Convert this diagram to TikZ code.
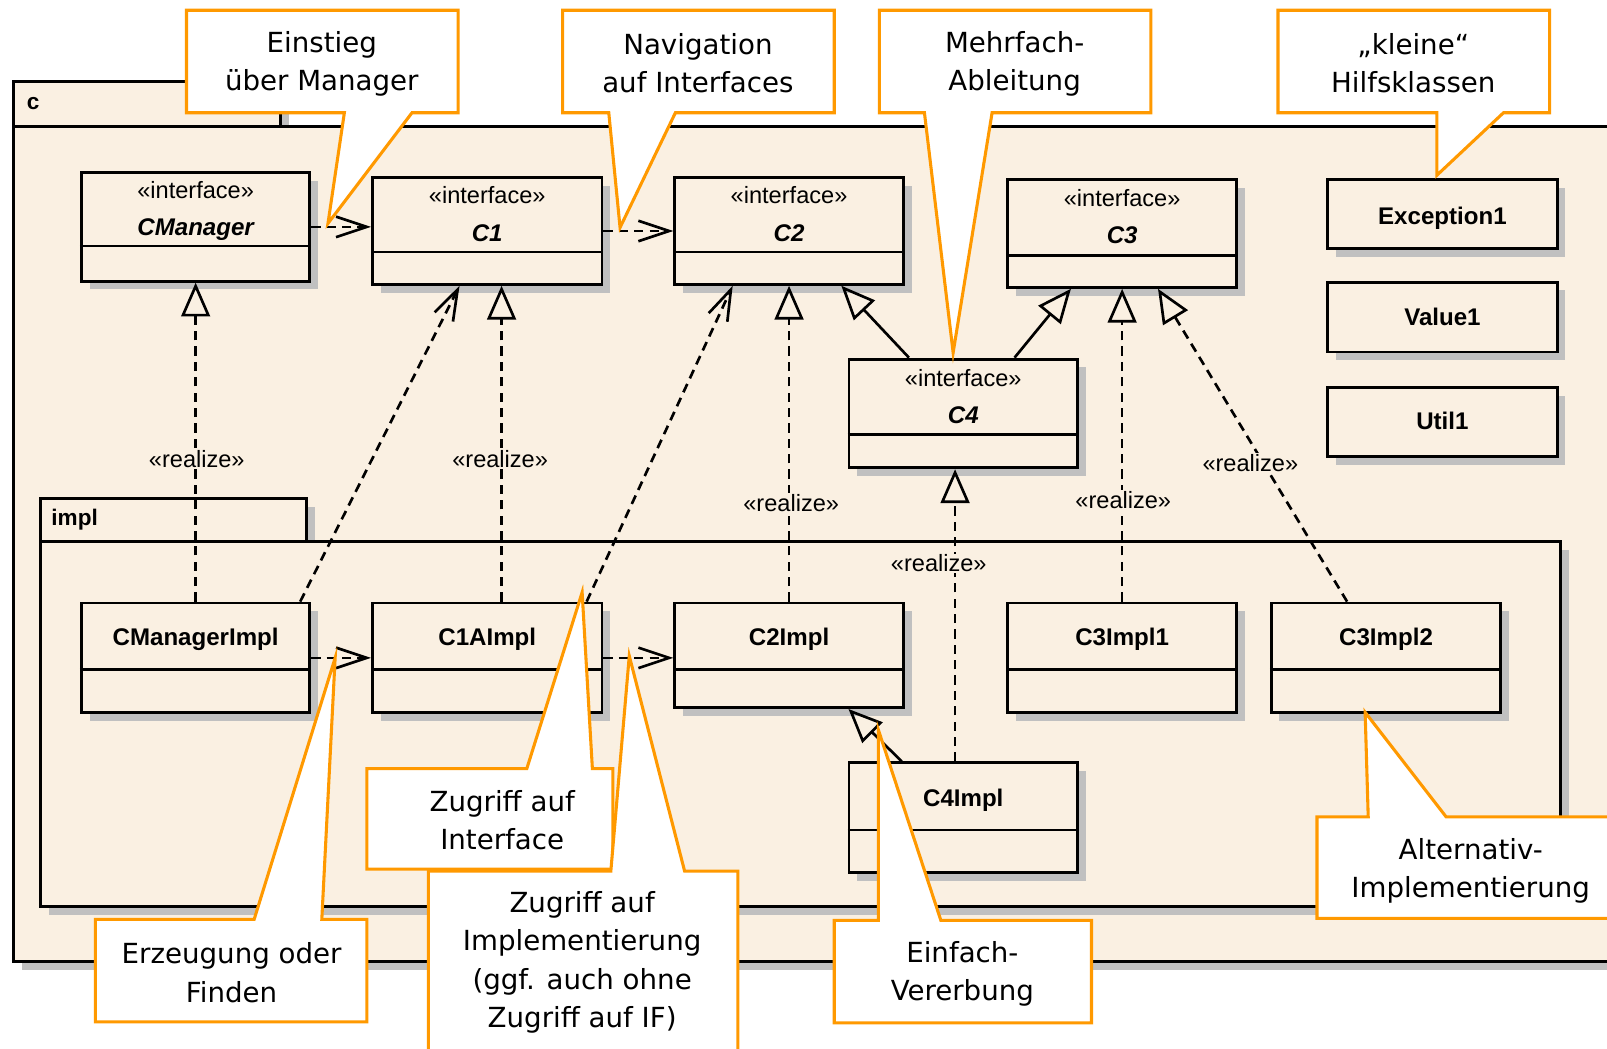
\documentclass[tikz,border=0pt]{standalone}
\usepackage{fontspec}
\setmainfont{DejaVu Sans}
\newfontfamily\umlfont{Liberation Sans}
\usetikzlibrary{arrows.meta,shadows,calc}
\definecolor{pkgfill}{RGB}{250,240,226}
\definecolor{shadowgray}{RGB}{192,192,192}
\definecolor{calloutorange}{RGB}{255,153,0}
\newcommand\umldiv[2]{\draw[divider] (#1.west |- 0,#2) -- (#1.east |- 0,#2);}
\begin{document}
\begin{tikzpicture}[x=1pt,y=-1pt,
  shadowed/.style={drop shadow={shadow xshift=8pt,shadow yshift=-8pt,fill=shadowgray,opacity=1}},
  pkg/.style={draw=black,line width=3pt,fill=pkgfill,anchor=north west,inner sep=0pt,shadowed},
  pkglabel/.style={anchor=base west,inner sep=0pt,font=\umlfont\bfseries\fontsize{22}{26}\selectfont},
  umlclass/.style={draw=black,line width=2.8pt,fill=pkgfill,anchor=north west,inner sep=0pt,shadowed},
  divider/.style={draw=black,line width=2.6pt},
  stereo/.style={anchor=base,inner sep=0pt,font=\umlfont\fontsize{23}{27}\selectfont},
  ifname/.style={anchor=base,inner sep=0pt,font=\umlfont\bfseries\itshape\fontsize{23.5}{27}\selectfont},
  clsname/.style={anchor=base,inner sep=0pt,font=\umlfont\bfseries\fontsize{23.5}{27}\selectfont},
  rlabel/.style={anchor=base,inner sep=1pt,fill=pkgfill,font=\umlfont\fontsize{23}{27}\selectfont},
  dep/.style={draw=black,line width=2.6pt,dash pattern=on 9pt off 6pt,-{Straight Barb[length=30pt,width=20pt,line width=2.6pt]}},
  realize/.style={draw=black,line width=2.6pt,dash pattern=on 9pt off 6pt,-{Triangle[open,length=33pt,width=28pt,line width=2.6pt]}},
  gen/.style={draw=black,line width=2.6pt,-{Triangle[open,length=33pt,width=28pt,line width=2.6pt]}},
  callout/.style={draw=calloutorange,line width=3pt,fill=white,line join=miter},
  ctext/.style={align=center,inner sep=0pt,font=\fontsize{27}{37.3}\selectfont}
]
\useasboundingbox (0,0) rectangle (1568,1023);
\clip (0,0) rectangle (1568,1023);
\fill[white] (0,0) rectangle (1568,1023);

% packages
\node[pkg,minimum width=260pt,minimum height=44pt] (cTab) at (12,78) {};
\node[pkg,minimum width=1608pt,minimum height=815pt] (cBody) at (12,122) {};
\node[pkglabel] (cLabel) at (26,107) {c};
\node[pkg,minimum width=260pt,minimum height=42pt] (implTab) at (38,485) {};
\node[pkg,minimum width=1483pt,minimum height=356pt] (implBody) at (38,527) {};
\node[pkglabel] (implLabel) at (50,513) {impl};

% classes
\node[umlclass,minimum width=223pt,minimum height=106pt] (CManager) at (78,167) {};
\umldiv{CManager}{240}
\node[stereo] (CManagerSt) at (CManager.north |- 0,194) {«interface»};
\node[ifname] (CManagerNm) at (CManager.north |- 0,230) {CManager};

\node[umlclass,minimum width=224pt,minimum height=104pt] (C1) at (362,172) {};
\umldiv{C1}{246}
\node[stereo] (C1St) at (C1.north |- 0,199) {«interface»};
\node[ifname] (C1Nm) at (C1.north |- 0,236) {C1};

\node[umlclass,minimum width=223pt,minimum height=104pt] (C2) at (657,172) {};
\umldiv{C2}{246}
\node[stereo] (C2St) at (C2.north |- 0,199) {«interface»};
\node[ifname] (C2Nm) at (C2.north |- 0,236) {C2};

\node[umlclass,minimum width=223pt,minimum height=105pt] (C3) at (982,174) {};
\umldiv{C3}{249}
\node[stereo] (C3St) at (C3.north |- 0,201) {«interface»};
\node[ifname] (C3Nm) at (C3.north |- 0,238) {C3};

\node[umlclass,minimum width=223pt,minimum height=106pt] (C4) at (827,349) {};
\umldiv{C4}{424}
\node[stereo] (C4St) at (C4.north |- 0,377) {«interface»};
\node[ifname] (C4Nm) at (C4.north |- 0,413) {C4};

\node[umlclass,minimum width=224pt,minimum height=67pt] (Exc) at (1294,174) {};
\node[clsname] (ExcNm) at (Exc.north |- 0,219) {Exception1};
\node[umlclass,minimum width=224pt,minimum height=68pt] (Val) at (1294,274) {};
\node[clsname] (ValNm) at (Val.north |- 0,318) {Value1};
\node[umlclass,minimum width=224pt,minimum height=67pt] (Utl) at (1294,377) {};
\node[clsname] (UtlNm) at (Utl.north |- 0,419) {Util1};

\node[umlclass,minimum width=223pt,minimum height=107pt] (CManagerImpl) at (78,587) {};
\umldiv{CManagerImpl}{653}
\node[clsname] (CManagerImplNm) at (CManagerImpl.north |- 0,630) {CManagerImpl};

\node[umlclass,minimum width=224pt,minimum height=107pt] (C1AImpl) at (362,587) {};
\umldiv{C1AImpl}{653}
\node[clsname] (C1AImplNm) at (C1AImpl.north |- 0,630) {C1AImpl};

\node[umlclass,minimum width=223pt,minimum height=102pt] (C2Impl) at (657,587) {};
\umldiv{C2Impl}{653}
\node[clsname] (C2ImplNm) at (C2Impl.north |- 0,630) {C2Impl};

\node[umlclass,minimum width=223pt,minimum height=107pt] (C3Impl1) at (982,587) {};
\umldiv{C3Impl1}{653}
\node[clsname] (C3Impl1Nm) at (C3Impl1.north |- 0,630) {C3Impl1};

\node[umlclass,minimum width=224pt,minimum height=107pt] (C3Impl2) at (1239,587) {};
\umldiv{C3Impl2}{653}
\node[clsname] (C3Impl2Nm) at (C3Impl2.north |- 0,630) {C3Impl2};

\node[umlclass,minimum width=223pt,minimum height=107pt] (C4Impl) at (827,743) {};
\umldiv{C4Impl}{810}
\node[clsname] (C4ImplNm) at (C4Impl.north |- 0,787) {C4Impl};

% dependencies
\draw[dep] (CManager.east) -- (CManager.east -| C1.west);
\draw[dep] (C1.east) -- (C2.west);
\draw[dep] (CManagerImpl.east) -- (C1AImpl.west);
\draw[dep] (C1AImpl.east) -- (C1AImpl.east -| C2Impl.west);
\draw[dep] ([xshift=102pt]CManagerImpl.north) -- ([xshift=-27pt]C1.south);
\draw[dep] ([xshift=97pt]C1AImpl.north) -- ([xshift=-55pt]C2.south);

% realizations
\draw[realize] (CManagerImpl.north) -- (CManager.south);
\draw[realize] ([xshift=14pt]C1AImpl.north) -- ([xshift=14pt]C1.south);
\draw[realize] (C2Impl.north) -- (C2.south);
\draw[realize] (C3Impl1.north) -- (C3.south);
\draw[realize] ([xshift=-38pt]C3Impl2.north) -- ([xshift=35pt]C3.south);
\draw[realize] ([xshift=-8pt]C4Impl.north) -- ([xshift=-8pt]C4.south);

% generalizations
\draw[gen] ([xshift=-53pt]C4.north) -- ([xshift=51pt]C2.south);
\draw[gen] ([xshift=50pt]C4.north) -- ([xshift=-50pt]C3.south);
\draw[gen] ([xshift=-60pt]C4Impl.north) -- ([xshift=58pt]C2Impl.south);

% realize labels
\node[rlabel] (rl1) at (192,456) {«realize»};
\node[rlabel] (rl2) at (488,456) {«realize»};
\node[rlabel] (rl3) at (772,499) {«realize»};
\node[rlabel] (rl4) at (1096,496) {«realize»};
\node[rlabel] (rl5) at (1220,460) {«realize»};
\node[rlabel] (rl6) at (916,558) {«realize»};

% callouts
\coordinate (tipA) at (320,218);
\filldraw[callout] (182,10) -- (447,10) -- (447,110) -- (402,110) -- (tipA) -- (336,110) -- (182,110) -- cycle;
\node[ctext] (txtA) at (314,62) {Einstieg\\über Manager};

\coordinate (tipB) at (605,222);
\filldraw[callout] (549,10) -- (814,10) -- (814,110) -- (659,110) -- (tipB) -- (594,110) -- (549,110) -- cycle;
\node[ctext] (txtB) at (681,62) {Navigation\\auf Interfaces};

\coordinate (tipC) at (930,344);
\filldraw[callout] (858,10) -- (1123,10) -- (1123,110) -- (968,110) -- (tipC) -- (902,110) -- (858,110) -- cycle;
\node[ctext] (txtC) at (990,62) {Mehrfach-\\Ableitung};

\coordinate (tipD) at (1402,171);
\filldraw[callout] (1247,10) -- (1512,10) -- (1512,110) -- (1467,110) -- (tipD) -- (1402,110) -- (1247,110) -- cycle;
\node[ctext] (txtD) at (1379,62) {„kleine“\\Hilfsklassen};

\coordinate (tipE) at (568,578);
\filldraw[callout] (358,750) -- (514,750) -- (tipE) -- (578,750) -- (598,750) -- (598,848) -- (358,848) -- cycle;
\node[ctext] (txtE) at (490,800) {Zugriff auf\\Interface};

\coordinate (tipF) at (614,640);
\filldraw[callout] (418,850) -- (596,850) -- (tipF) -- (668,850) -- (720,850) -- (720,1045) -- (418,1045) -- cycle;
\node[ctext] (txtF) at (568,939) {Zugriff auf\\Implementierung\\(ggf. auch ohne\\Zugriff auf IF)};

\coordinate (tipG) at (327,642);
\filldraw[callout] (93,897) -- (248,897) -- (tipG) -- (314,897) -- (358,897) -- (358,997) -- (93,997) -- cycle;
\node[ctext] (txtG) at (226,949) {Erzeugung oder\\Finden};

\coordinate (tipH) at (857,712);
\filldraw[callout] (814,898) -- (857,898) -- (tipH) -- (918,898) -- (1065,898) -- (1065,998) -- (814,998) -- cycle;
\node[ctext] (txtH) at (939,950) {Einfach-\\Vererbung};

\coordinate (tipI) at (1332,695);
\filldraw[callout] (1285,797) -- (1335,797) -- (tipI) -- (1411,797) -- (1610,797) -- (1610,896) -- (1285,896) -- cycle;
\node[ctext] (txtI) at (1435,850) {Alternativ-\\Implementierung};
\end{tikzpicture}
\end{document}
